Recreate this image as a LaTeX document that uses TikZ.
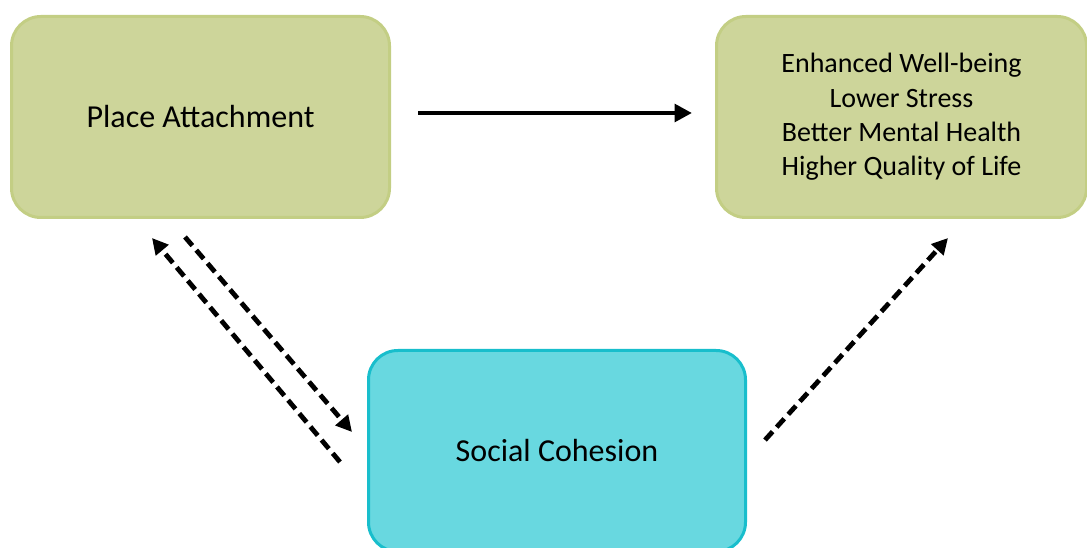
\documentclass[tikz,border=0pt]{standalone}
\usepackage{fontspec}
\setmainfont{Carlito}
\usetikzlibrary{arrows.meta}
\definecolor{olivefill}{RGB}{205,213,154}
\definecolor{olivedraw}{RGB}{195,206,132}
\definecolor{cyanfill}{RGB}{104,216,224}
\definecolor{cyandraw}{RGB}{24,190,204}
\tikzset{
	factor/.style={draw=olivedraw, fill=olivefill, line width=2.25pt, rounded corners=22pt, minimum height=150.75pt, align=center},
	link/.style={line width=3.6pt, -{Triangle[length=13pt,width=13pt]}},
	dlink/.style={link, dash pattern=on 8.5pt off 4.5pt, -{Triangle[length=12pt,width=12pt]}}
}
\begin{document}
\begin{tikzpicture}[x=0.75pt, y=-0.75pt]
	\useasboundingbox (0,0) rectangle (1087,548);
	\node[factor, minimum width=283.5pt, font=\fontsize{24}{28}\selectfont] (place) at (200.5,117) {Place Attachment};
	\node[factor, minimum width=277.5pt, font=\fontsize{21}{25.8}\selectfont] (outcome) at (901.5,117) {Enhanced Well-being\\Lower Stress\\Better Mental Health\\Higher Quality of Life};
	\node[factor, draw=cyandraw, fill=cyanfill, minimum width=282.75pt, font=\fontsize{24}{28}\selectfont] (social) at (557,451) {Social Cohesion};
	% arrow ends
	\coordinate (p1) at (418,113);
	\coordinate (o1) at (692,113);
	\coordinate (p2) at (152,238);
	\coordinate (s2) at (340,462);
	\coordinate (p3) at (185,237);
	\coordinate (s3) at (352,432);
	\coordinate (s4) at (765,440);
	\coordinate (o4) at (948,238);
	\draw[link] (p1) -- (o1);
	\draw[dlink] (s2) -- (p2);
	\draw[dlink] (p3) -- (s3);
	\draw[dlink] (s4) -- (o4);
\end{tikzpicture}
\end{document}
